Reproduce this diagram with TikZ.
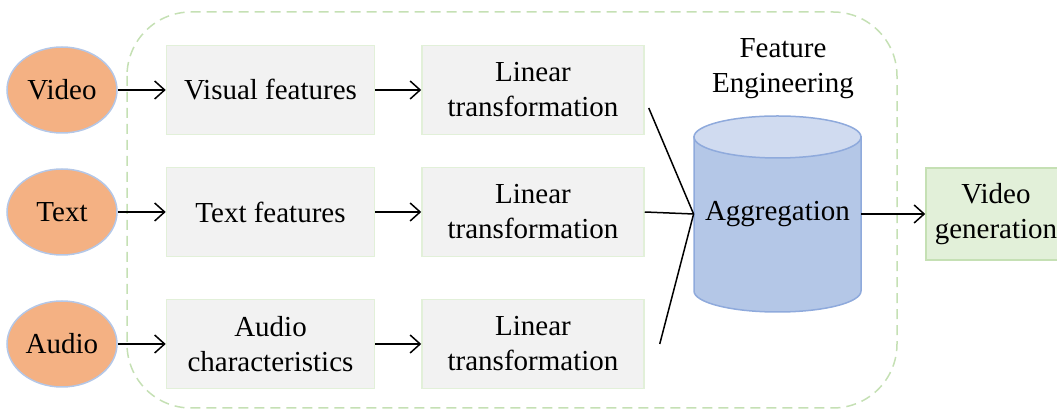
\documentclass[tikz,border=0pt]{standalone}
\usepackage{fontspec}
\setmainfont{Liberation Serif}
\usetikzlibrary{positioning, shapes.geometric, arrows.meta}

\definecolor{inorange}{HTML}{F4B183}
\definecolor{inborder}{HTML}{B4C7E7}
\definecolor{boxgray}{HTML}{F2F2F2}
\definecolor{boxline}{HTML}{E2F0D9}
\definecolor{cylbody}{HTML}{B4C7E7}
\definecolor{cyltop}{HTML}{D0DBF0}
\definecolor{cylline}{HTML}{8FAADC}
\definecolor{genfill}{HTML}{E2F0D9}
\definecolor{genline}{HTML}{C5E0B4}
\definecolor{dashgreen}{HTML}{C5E0B4}

\begin{document}
\begin{tikzpicture}[x=1pt, y=-1pt,
        every node/.style={align=center, font=\fontsize{14.5}{17.5}\selectfont},
        source/.style={ellipse, draw=inborder, line width=0.75pt, fill=inorange, minimum width=55pt, minimum height=43pt, inner sep=0pt},
        featbox/.style={draw=boxline, line width=0.75pt, fill=boxgray, minimum width=104pt, minimum height=44.5pt, inner sep=0pt},
        linbox/.style={draw=boxline, line width=0.75pt, fill=boxgray, minimum width=111pt, minimum height=44.5pt, inner sep=0pt},
        arrow/.style={-{Straight Barb[length=5pt, width=9pt]}, line width=0.75pt},
        joinline/.style={line width=0.75pt}
    ]
    \useasboundingbox (0,0) rectangle (528.5,205);

    % Container
    \draw[dashgreen, line width=0.75pt, dash pattern=on 5pt off 3pt, rounded corners=32pt] (63.5,6) rectangle (448.5,204);
    \node (fe) at (391.5,34.5) {Feature\\Engineering};

    % Cylinder
    \draw[cylline, fill=cylbody, line width=0.75pt] (347,68.5) -- (347,145.5)
        arc[start angle=180, end angle=360, x radius=41.75pt, y radius=10.5pt] -- (430.5,68.5) -- cycle;
    \draw[cylline, fill=cyltop, line width=0.75pt] (388.75,68.5) ellipse[x radius=41.75pt, y radius=10.5pt];

    % Nodes
    \node[source] (video) at (31,45) {Video};
    \node[source] (text) at (31,106) {Text};
    \node[source] (audio) at (31,172) {Audio};

    \node[featbox, right=24pt of video] (visual) {Visual features};
    \node[featbox, right=24pt of text] (textfeat) {Text features};
    \node[featbox, right=24pt of audio] (audiofeat) {Audio\\characteristics};

    \node[linbox, right=23pt of visual] (linvis) {Linear\\transformation};
    \node[linbox, right=23pt of textfeat] (lintext) {Linear\\transformation};
    \node[linbox, right=23pt of audiofeat] (linaudio) {Linear\\transformation};

    \node[minimum width=83.5pt, minimum height=98pt, inner sep=0pt] (agg) at (388.75,107) {Aggregation};

    \node[draw=genline, line width=0.75pt, fill=genfill, minimum width=70pt, minimum height=46pt, inner sep=0pt] (gen) at (498,107) {Video\\generation};

    % Arrows
    \draw[arrow] (video) -- (visual);
    \draw[arrow] (text) -- (textfeat);
    \draw[arrow] (audio) -- (audiofeat);
    \draw[arrow] (visual) -- (linvis);
    \draw[arrow] (textfeat) -- (lintext);
    \draw[arrow] (audiofeat) -- (linaudio);

    \draw[joinline] ([xshift=2pt, yshift=-9pt]linvis.east) -- (agg.west);
    \draw[joinline] (lintext.east) -- (agg.west);
    \draw[joinline] ([xshift=7.5pt]linaudio.east) -- (agg.west);
    \draw[arrow] (agg.east) -- (gen.west);

\end{tikzpicture}
\end{document}
